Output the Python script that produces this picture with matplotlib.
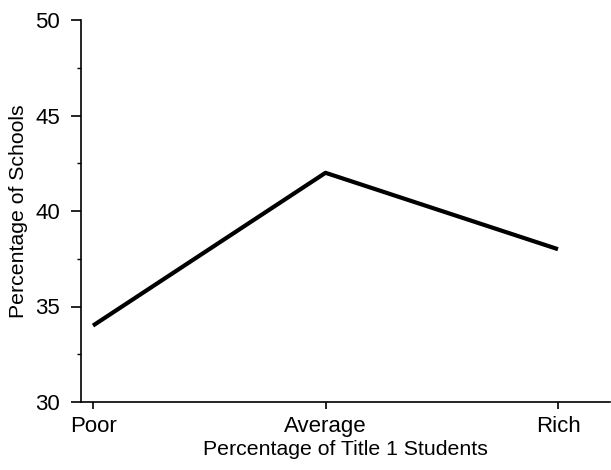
import matplotlib
matplotlib.use("Agg")
import matplotlib.pyplot as plt
from matplotlib.ticker import MultipleLocator

plt.rcParams["font.family"] = ["Liberation Sans", "DejaVu Sans"]

# data
categories = ["Poor", "Average", "Rich"]
pct_schools = [34, 42, 38]

fig = plt.figure(figsize=(6.11, 4.70), dpi=100)
ax = fig.add_axes([81 / 611, 1 - 402 / 470, (610 - 81) / 611, (402 - 20) / 470])

x = list(range(len(categories)))
ax.plot(x, pct_schools, color="black", linewidth=3.0, solid_capstyle="butt")

ax.set_xlim(-12 / 232.5, 2 + 52 / 232.5)
ax.set_ylim(30, 50)
ax.set_xticks(x)
ax.set_xticklabels(categories)
ax.yaxis.set_major_locator(MultipleLocator(5))
ax.yaxis.set_minor_locator(MultipleLocator(2.5))

for side in ["top", "right"]:
    ax.spines[side].set_visible(False)
for side in ["left", "bottom"]:
    ax.spines[side].set_linewidth(1.2)

ax.tick_params(axis="both", which="major", width=1.2, labelsize=16)
ax.tick_params(axis="y", which="major", length=7, pad=8)
ax.tick_params(axis="x", which="major", length=5, pad=5)
ax.tick_params(axis="y", which="minor", length=3, width=1.0)
ax.tick_params(axis="x", which="minor", length=0)

ax.set_xlabel("Percentage of Title 1 Students", fontsize=15.3, labelpad=2)
ax.set_ylabel("Percentage of Schools", fontsize=15.3, labelpad=5)

fig.savefig("out.png", dpi=100)
